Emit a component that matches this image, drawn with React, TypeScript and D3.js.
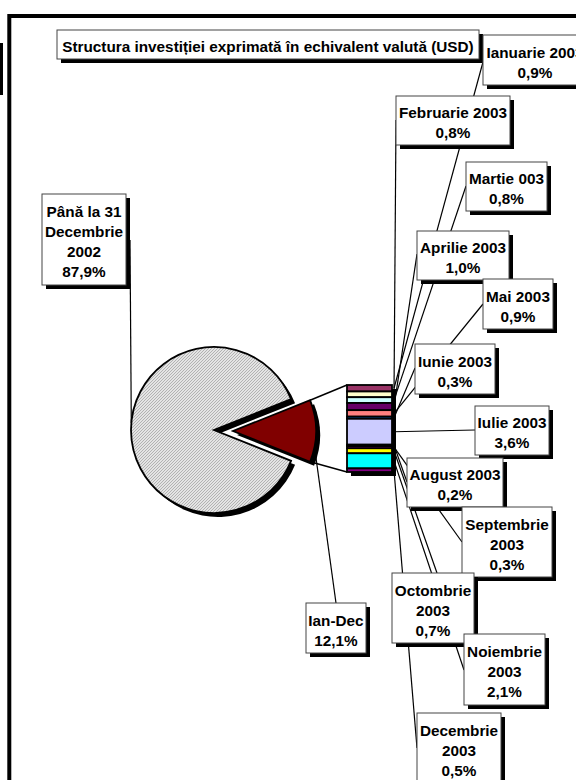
import React from "react";
import * as d3 from "d3";

const W = 576;
const H = 780;

// pie: before 2003 vs the 2003 months together
const pieNames = ["Până la 31 Decembrie 2002", "Ian-Dec"];
const pieValues = [87.9, 12.1];

// bar of pie: the months of 2003
const months = [
  "Ianuarie 2003", "Februarie 2003", "Martie 003", "Aprilie 2003", "Mai 2003", "Iunie 2003",
  "Iulie 2003", "August 2003", "Septembrie 2003", "Octombrie 2003", "Noiembrie 2003", "Decembrie 2003",
];
const monthValues = [0.9, 0.8, 0.8, 1.0, 0.9, 0.3, 3.6, 0.2, 0.3, 0.7, 2.1, 0.5];
const monthColors = [
  "#993366", "#FFFFCC", "#CCFFFF", "#660066", "#FF8080", "#0066CC",
  "#CCCCFF", "#000080", "#FF00FF", "#FFFF00", "#00FFFF", "#800080",
];

const title = "Structura investiției exprimată în echivalent valută (USD)";

// label boxes [x, y, w, h] and where the leader touches the box
const monthBoxes = [
  [483, 35, 104, 50], [396, 96, 114, 49], [466, 162, 81, 49], [417, 231, 92, 49],
  [483, 279, 70, 50], [415, 344, 80, 50], [475, 406, 74, 49], [407, 458, 96, 49],
  [462, 507, 90, 70], [392, 573, 82, 70], [464, 634, 81, 71], [417, 713, 84, 71],
];
const monthAnchors = [
  [483, 62], [396, 120], [466, 186], [417, 254], [483, 304], [415, 368],
  [475, 430], [407, 482], [462, 542], [437, 573], [464, 670], [417, 748],
];

const fmt = (v: number) => d3.format(".1f")(v).replace(".", ",") + "%";
const FONT = "'Liberation Sans', Arial, sans-serif";
const FS = 15.3;
const LH = 20;

function splitLabel(name: string): string[] {
  // long names go on two lines, like the original
  if (name.startsWith("Până")) return ["Până la 31", "Decembrie", "2002"];
  const parts = name.split(" ");
  if (parts[0].length >= 9 && !parts[0].startsWith("Februarie") && !parts[0].startsWith("Ianuarie")) return parts;
  return [name];
}

const LabelBox = ({ box, lines, shadow = true }: { box: number[]; lines: string[]; shadow?: boolean }) => {
  const [x, y, w, h] = box;
  const cy = y + h / 2 + 2;
  return (
    <g>
      {shadow && <rect x={x + 4} y={y + 4} width={w} height={h} fill="#000" />}
      <rect x={x} y={y} width={w} height={h} fill="#fff" stroke="#444" strokeWidth={1} />
      {lines.map((l, i) => (
        <text
          key={i}
          x={x + w / 2}
          y={cy + (i - (lines.length - 1) / 2) * LH + 5.5}
          textAnchor="middle"
          fontFamily={FONT}
          fontWeight="bold"
          fontSize={FS}
          fill="#000"
        >
          {l}
        </text>
      ))}
    </g>
  );
};

export default function App() {
  const cx = 214;
  const cy = 430;
  const r = 83;
  const explode = 19;
  const half = (pieValues[1] / d3.sum(pieValues)) * Math.PI;
  const start = Math.PI / 2 + half;

  const arcs = d3
    .pie<number>()
    .sort(null)
    .startAngle(start)
    .endAngle(start + 2 * Math.PI)(pieValues);
  const arc = d3.arc<d3.PieArcDatum<number>>().innerRadius(0).outerRadius(r);

  const big = arcs[0];
  const small = arcs[1];
  const mid = (small.startAngle + small.endAngle) / 2;
  const sx = cx + explode * Math.sin(mid);
  const sy = cy - explode * Math.cos(mid) + 1;
  const cornerTop = [sx + r * Math.sin(small.startAngle), sy - r * Math.cos(small.startAngle)];
  const cornerBot = [sx + r * Math.sin(small.endAngle), sy - r * Math.cos(small.endAngle)];

  // stacked bar
  const barX = 347;
  const barW = 45;
  const y = d3.scaleLinear().domain([0, d3.sum(monthValues)]).range([385, 472]);
  const cum = d3.cumsum(monthValues);
  const segs = monthValues.map((v, i) => ({ v, y0: y(cum[i] - v), y1: y(cum[i]), c: monthColors[i] }));

  const leaderAngle = mid + 0.225;
  const ianDecStart = [sx + (r + 1) * Math.sin(leaderAngle), sy - (r + 1) * Math.cos(leaderAngle)];
  const bigLabelAngle = Math.PI * 1.5 + 0.085;
  const bigStart = [cx + r * Math.sin(bigLabelAngle), cy - r * Math.cos(bigLabelAngle)];

  return (
    <div style={{ position: "absolute", left: 0, top: 0 }}>
      <svg width={W} height={H} style={{ display: "block", background: "#fff" }}>
        <defs>
          <pattern id="hatch" width="3" height="3" patternUnits="userSpaceOnUse">
            <rect width="3" height="3" fill="#e4e4e4" />
            <path d="M-1,1 l2,-2 M0,3 l3,-3 M2,4 l2,-2" stroke="#a6a6a6" strokeWidth={0.8} />
          </pattern>
        </defs>

        {/* outer frame */}
        <path d={`M9.3,${H + 4} V16 H${W + 4}`} fill="none" stroke="#000" strokeWidth={4} />
        <rect x={-1} y={43} width={4} height={52} fill="#000" />

        {/* leader lines */}
        <line x1={bigStart[0]} y1={bigStart[1]} x2={130} y2={240} stroke="#000" strokeWidth={1.2} />
        <line x1={ianDecStart[0]} y1={ianDecStart[1]} x2={336} y2={603} stroke="#000" strokeWidth={1.2} />
        {segs.map((s, i) => (
          <line
            key={i}
            x1={barX + barW + 2}
            y1={(s.y0 + s.y1) / 2}
            x2={monthAnchors[i][0]}
            y2={monthAnchors[i][1]}
            stroke="#000"
            strokeWidth={1.2}
          />
        ))}

        {/* pie */}
        <path d={arc(big) || ""} transform={`translate(${cx + 4},${cy + 4})`} fill="#000" />
        <path d={arc(big) || ""} transform={`translate(${cx},${cy})`} fill="url(#hatch)" stroke="#000" strokeWidth={1.8} />
        <path d={arc(small) || ""} transform={`translate(${sx + 4},${sy + 4})`} fill="#000" />
        <path d={arc(small) || ""} transform={`translate(${sx},${sy})`} fill="#800000" stroke="#000" strokeWidth={1.8} />

        {/* connectors pie -> bar */}
        <line x1={cornerTop[0]} y1={cornerTop[1]} x2={barX} y2={y.range()[0]} stroke="#000" strokeWidth={1.5} />
        <line x1={cornerBot[0]} y1={cornerBot[1]} x2={barX} y2={y.range()[1]} stroke="#000" strokeWidth={1.5} />

        {/* bar */}
        <rect x={barX + 4} y={y.range()[0] + 4} width={barW} height={y.range()[1] - y.range()[0]} fill="#000" />
        {segs.map((s, i) => (
          <rect key={i} x={barX} y={s.y0} width={barW} height={s.y1 - s.y0} fill={s.c} stroke="#000" strokeWidth={1.8} />
        ))}

        {/* labels */}
        <LabelBox box={[57, 30, 422, 29]} lines={[title]} />
        <LabelBox box={[42, 194, 84, 91]} lines={[...splitLabel(pieNames[0]), fmt(pieValues[0])]} />
        <LabelBox box={[306, 603, 60, 50]} lines={[pieNames[1], fmt(pieValues[1])]} />
        {months.map((m, i) => (
          <LabelBox key={m} box={monthBoxes[i]} lines={[...splitLabel(m), fmt(monthValues[i])]} />
        ))}
      </svg>
    </div>
  );
}
